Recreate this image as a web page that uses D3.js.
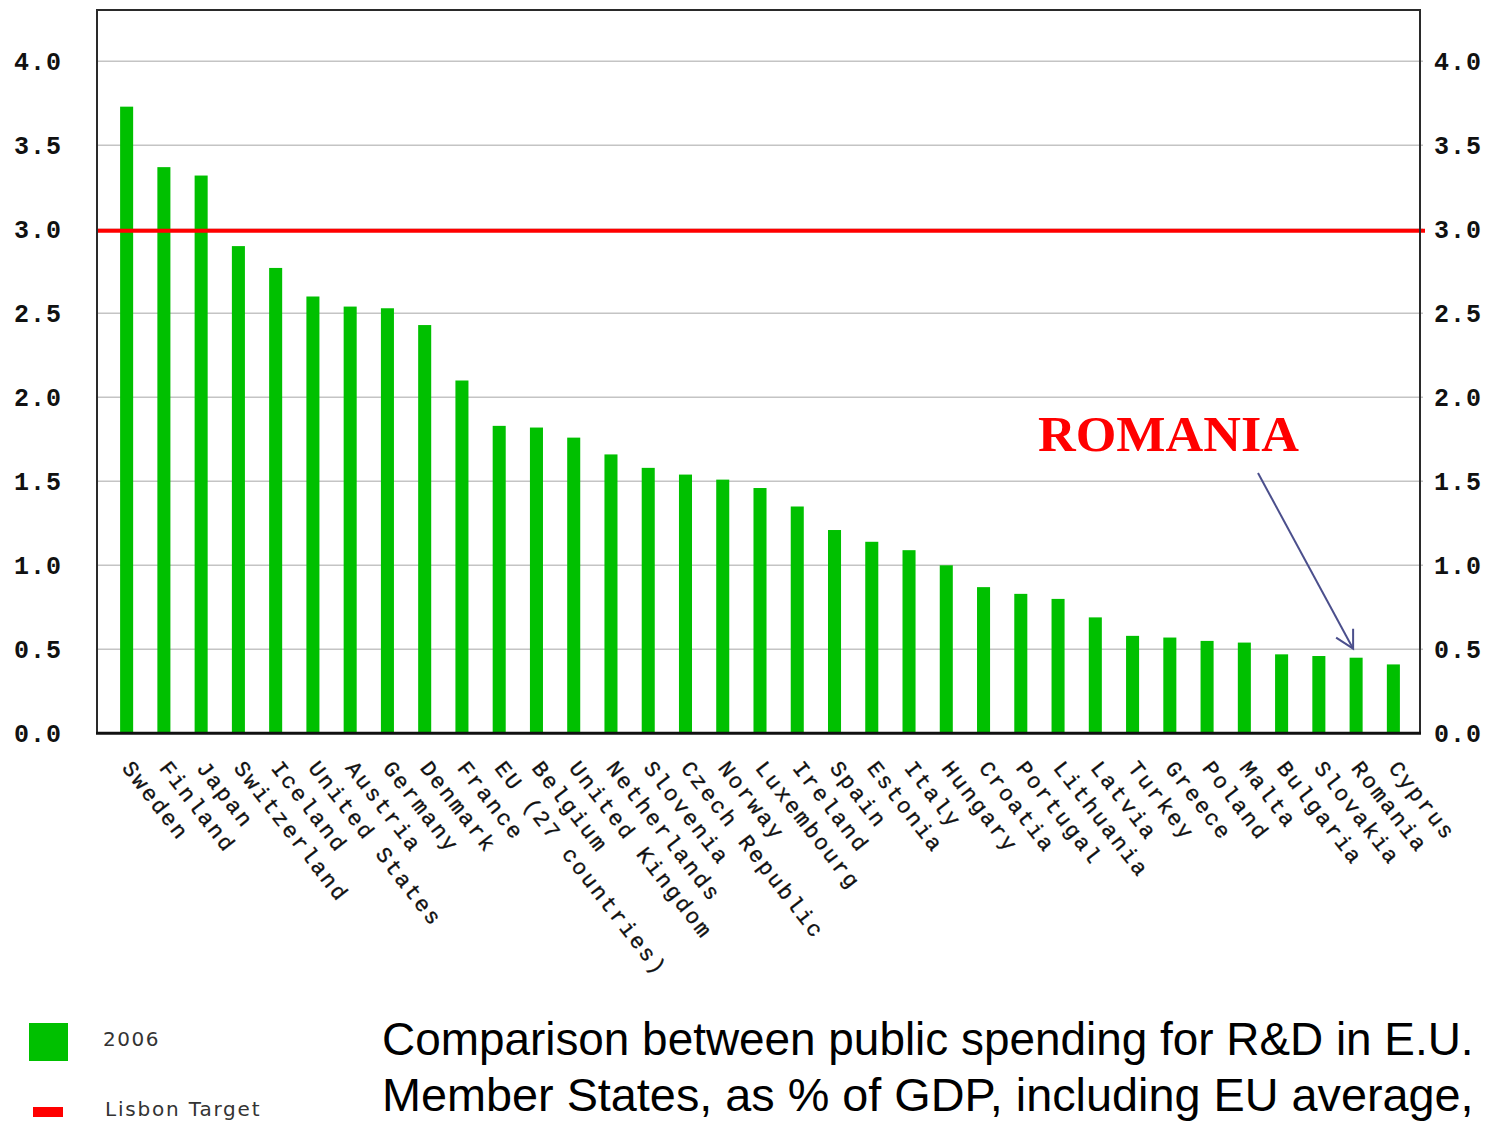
<!DOCTYPE html>
<html>
<head>
<meta charset="utf-8">
<script src="https://cdn.jsdelivr.net/npm/d3@7"></script>
<style>
  html, body { margin: 0; padding: 0; background: #fff; overflow: hidden; }
  svg { display: block; }
</style>
</head>
<body>
<svg id="chart" width="1490" height="1121"></svg>
<script>
// ---- data ----
const categories = ["Sweden","Finland","Japan","Switzerland","Iceland","United States","Austria","Germany","Denmark","France","EU (27 countries)","Belgium","United Kingdom","Netherlands","Slovenia","Czech Republic","Norway","Luxembourg","Ireland","Spain","Estonia","Italy","Hungary","Croatia","Portugal","Lithuania","Latvia","Turkey","Greece","Poland","Malta","Bulgaria","Slovakia","Romania","Cyprus"];
const values2006 = [3.73,3.37,3.32,2.90,2.77,2.60,2.54,2.53,2.43,2.10,1.83,1.82,1.76,1.66,1.58,1.54,1.51,1.46,1.35,1.21,1.14,1.09,1.00,0.87,0.83,0.80,0.69,0.58,0.57,0.55,0.54,0.47,0.46,0.45,0.41];
const lisbonTarget = 3.0;
const yTicks = [0,0.5,1.0,1.5,2.0,2.5,3.0,3.5,4.0];
const legendLabels = ["2006","Lisbon Target"];
const highlight = "Romania";
const highlightLabel = "ROMANIA";
const captionLines = ["Comparison between public spending for R&D in E.U.","Member States, as % of GDP, including EU average,"];

// ---- layout ----
const svg = d3.select("#chart");
const plot = {left: 97, right: 1420, top: 10, bottom: 733.3};

const x = d3.scaleBand().domain(categories).range([108, 1412]).paddingInner(0.65).paddingOuter(0.325);
const y = d3.scaleLinear().domain([0, 4.3]).range([plot.bottom, plot.bottom - 4.3 * 168]);

// gridlines
svg.append("g").selectAll("line").data(yTicks.filter(d => d > 0)).join("line")
  .attr("x1", plot.left).attr("x2", plot.right + 3)
  .attr("y1", d => y(d)).attr("y2", d => y(d))
  .attr("stroke", "#c4c4c4").attr("stroke-width", 1.6);

// bars
svg.append("g").selectAll("rect").data(categories).join("rect")
  .attr("x", d => x(d)).attr("width", x.bandwidth())
  .attr("y", (d, i) => y(values2006[i]))
  .attr("height", (d, i) => y(0) - y(values2006[i]))
  .attr("fill", "#00c000");

// Lisbon target line
svg.append("line")
  .attr("x1", plot.left).attr("x2", plot.right + 5)
  .attr("y1", y(lisbonTarget) + 1.5).attr("y2", y(lisbonTarget) + 1.5)
  .attr("stroke", "#ff0000").attr("stroke-width", 4);

// frame
svg.append("path")
  .attr("d", `M${plot.left},${plot.bottom} V${plot.top} H${plot.right} V${plot.bottom}`)
  .attr("fill", "none").attr("stroke", "#2a2a2a").attr("stroke-width", 2);
svg.append("line")
  .attr("x1", plot.left - 1).attr("x2", plot.right + 1)
  .attr("y1", plot.bottom).attr("y2", plot.bottom)
  .attr("stroke", "#111").attr("stroke-width", 3);

// y axes (left and right)
const fmt = d3.format(".1f");
const leftAxis = d3.axisLeft(y).tickValues(yTicks).tickFormat(fmt).tickSize(0).tickPadding(0);
const rightAxis = d3.axisRight(y).tickValues(yTicks).tickFormat(fmt).tickSize(0).tickPadding(0);
const la = svg.append("g").attr("transform", "translate(62,0)").call(leftAxis);
const ra = svg.append("g").attr("transform", "translate(1434,0)").call(rightAxis);
[la, ra].forEach(g => {
  g.select(".domain").remove();
  g.selectAll("text")
    .attr("font-family", "'Liberation Mono', 'Courier New', monospace")
    .attr("font-weight", "bold").attr("font-size", 25)
    .attr("letter-spacing", "1px")
    .attr("fill", "#111");
});

// category labels (rotated)
const xAxis = d3.axisBottom(x).tickSize(0).tickPadding(0);
const xa = svg.append("g").attr("transform", `translate(0,${plot.bottom})`).call(xAxis);
xa.select(".domain").remove();
xa.selectAll(".tick text")
  .attr("font-family", "'Liberation Mono', 'Courier New', monospace")
  .attr("font-size", 22).attr("letter-spacing", "2.4px")
  .attr("fill", "#111").attr("stroke", "#111").attr("stroke-width", 0.35)
  .attr("text-anchor", "start")
  .attr("dy", null).attr("y", 0)
  .attr("transform", "translate(-5.5,35) rotate(52)");

// ROMANIA annotation
svg.append("text")
  .attr("x", 1038).attr("y", 451)
  .attr("font-family", "'Liberation Serif', 'Times New Roman', serif")
  .attr("font-weight", "bold").attr("font-size", 50)
  .attr("textLength", 261).attr("lengthAdjust", "spacingAndGlyphs")
  .attr("fill", "#ff0000").text(highlightLabel);

const hi = values2006[categories.indexOf(highlight)];
const tipX = x(highlight) + x.bandwidth() / 2 - 3;
const tipY = y(hi) - 9;
const arrow = svg.append("g").attr("stroke", "#4b4f8c").attr("stroke-width", 2).attr("fill", "none");
arrow.append("line").attr("x1", 1258).attr("y1", 473).attr("x2", tipX).attr("y2", tipY);
arrow.append("path")
  .attr("d", `M${tipX - 17},${tipY - 11} L${tipX},${tipY} L${tipX},${tipY - 20}`);

// legend
svg.append("rect").attr("x", 29).attr("y", 1023).attr("width", 39).attr("height", 38).attr("fill", "#00c000");
svg.append("rect").attr("x", 33).attr("y", 1107).attr("width", 30).attr("height", 10).attr("fill", "#ff0000");
svg.append("text").attr("x", 103).attr("y", 1046)
  .attr("font-family", "'DejaVu Sans', Verdana, sans-serif").attr("font-size", 20)
  .attr("letter-spacing", "1.5px").attr("fill", "#333").text(legendLabels[0]);
svg.append("text").attr("x", 105).attr("y", 1116)
  .attr("font-family", "'DejaVu Sans', Verdana, sans-serif").attr("font-size", 20)
  .attr("letter-spacing", "1.8px").attr("fill", "#333").text(legendLabels[1]);

// caption: each line squeezed horizontally (via transform) so it stays inside the page
const capX = 382, capMaxW = 1092;
captionLines.forEach((line, i) => {
  const g = svg.append("g");
  const t = g.append("text")
    .attr("x", 0).attr("y", i === 0 ? 1055 : 1111)
    .attr("font-family", "'Liberation Sans', Arial, Helvetica, sans-serif")
    .attr("font-size", 47).attr("fill", "#000")
    .text(line);
  const w = t.node().getComputedTextLength();
  const s = Math.min(1, capMaxW / w);
  g.attr("transform", `translate(${capX},0) scale(${s},1)`);
});
</script>
</body>
</html>
